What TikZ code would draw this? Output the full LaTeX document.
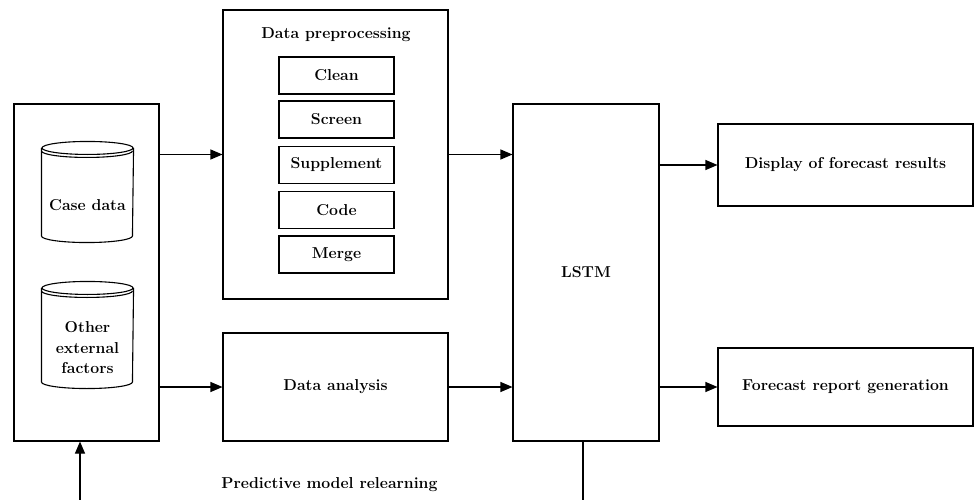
\documentclass[tikz,border=0pt]{standalone}
\usepackage{tikz}
\usetikzlibrary{arrows.meta,calc}

% database drum drawn round an empty node
\newcommand\drum[1]{%
  \draw ($(#1.north)+(0,6.5)$) ellipse (45.5 and 6.5);
  \draw ($(#1.north west)+(0,9.5)$) arc (180:0:45.5 and 6.5);
  \draw ($(#1.north west)+(0,6.5)$) -- ($(#1.south west)+(0,-6.5)$)
    arc (180:0:45.5 and 6.5) -- ($(#1.north east)+(0,6.5)$);}

\begin{document}
\begin{tikzpicture}[x=1pt,y=-1pt,line width=1.1pt,
  every node/.style={font=\bfseries\fontsize{15.8}{20.5}\selectfont,inner sep=0pt},
  blk/.style={draw,minimum width=#1},
  sub/.style={draw,minimum width=115pt,minimum height=37pt},
  db/.style={minimum width=91pt,minimum height=#1},
  arr/.style={-{Triangle[length=12pt,width=10pt]}}]
\useasboundingbox (0,0) rectangle (974,500);

\node[blk=145pt,minimum height=337pt] (src) at (86.5,272.5) {};
\node[db=100pt] (case) at (87.5,192) {};
\node[db=106pt] (other) at (87.5,335) {};
\drum{case}
\drum{other}
\node (casetxt) at (87.5,205) {Case data};
\node[align=center] (othertxt) at (87.5,348) {Other\\external\\factors};

\node[blk=225pt,minimum height=289pt] (prep) at (335.5,154.5) {};
\node (preptxt) at (336,35) {Data preprocessing};
\foreach \n/\t/\y in {clean/Clean/75.5,screen/Screen/119.5,supp/Supplement/165,
  code/Code/210,merge/Merge/254.5}
  \node[sub] (\n) at (336.5,\y) {\t};

\node[blk=225pt,minimum height=108pt] (ana) at (335.5,387) {Data analysis};
\node[blk=146pt,minimum height=337pt] (lstm) at (586,272.5) {LSTM};
\node[blk=255pt,minimum height=82pt] (disp) at (845.5,165) {Display of forecast results};
\node[blk=255pt,minimum height=78pt] (rep) at (845.5,387) {Forecast report generation};

\draw[arr] (src.east |- prep.west) -- (prep.west);
\draw[arr] (src.east |- ana.west) -- (ana.west);
\draw[arr] (prep.east) -- (prep.east -| lstm.west);
\draw[arr] (ana.east) -- (ana.east -| lstm.west);
\draw[arr] (lstm.east |- disp.west) -- (disp.west);
\draw[arr] (lstm.east |- rep.west) -- (rep.west);

% relearning loop
\coordinate (fbr) at (583,500);
\coordinate (fbl) at (80,500);
\draw (fbr |- lstm.south) -- (fbr);
\draw[arr] (fbl) -- (fbl |- src.south);
\node (relearn) at (329.5,485) {Predictive model relearning};
\end{tikzpicture}
\end{document}
